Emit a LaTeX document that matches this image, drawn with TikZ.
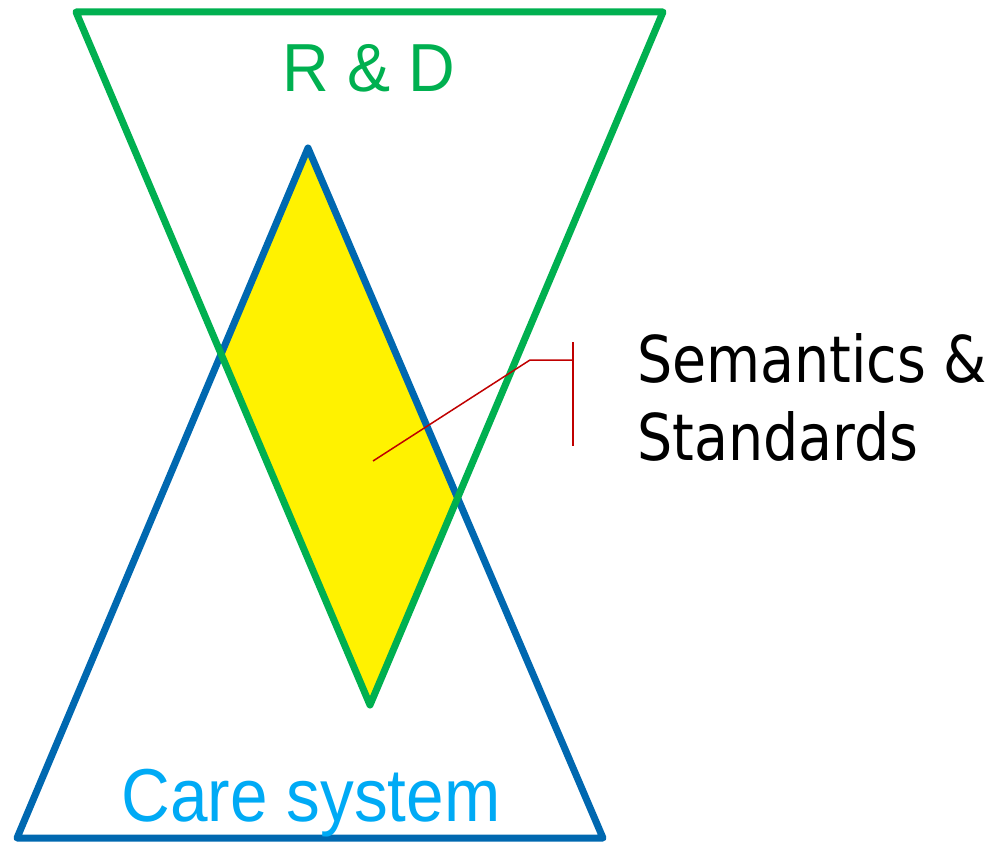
\documentclass[tikz,border=0pt]{standalone}
\usepackage{fontspec}
\newfontfamily\semfont[FakeStretch=0.86]{DejaVu Sans}
\newfontfamily\rdfont[FakeStretch=0.95]{Liberation Sans}
\newfontfamily\carefont[FakeStretch=0.9]{Liberation Sans}
\definecolor{rdgreen}{HTML}{00B050}
\definecolor{careblue}{HTML}{0068B0}
\definecolor{caretext}{HTML}{00AAF5}
\definecolor{calloutred}{HTML}{C00000}
\begin{document}
\begin{tikzpicture}[x=1pt,y=-1pt,
  tri/.style={line width=7pt,line join=round},
  callout/.style={draw=calloutred,line width=1.5pt},
  lbl/.style={inner sep=0pt,anchor=base}]
\useasboundingbox (0,0) rectangle (993,845);
% green inverted triangle
\coordinate (g1) at (76,12);
\coordinate (g2) at (663,12);
\coordinate (g3) at (370,705);
% blue triangle
\coordinate (b1) at (308,148);
\coordinate (b2) at (17,838);
\coordinate (b3) at (603,838);
% yellow overlap
\begin{scope}
  \clip (g1) -- (g2) -- (g3) -- cycle;
  \fill[yellow] (b1) -- (b2) -- (b3) -- cycle;
\end{scope}
\draw[tri,careblue] (b1) -- (b2) -- (b3) -- cycle;
\draw[tri,rdgreen] (g1) -- (g2) -- (g3) -- cycle;
% callout
\coordinate (c0) at (373,461);
\coordinate (c1) at (530,360);
\coordinate (c2) at (573,360);
\coordinate (ct) at (573,342);
\coordinate (cb) at (573,446);
\draw[callout] (c0) -- (c1) -- (c2);
\draw[callout] (ct) -- (cb);
% labels
\node[lbl,text=rdgreen,font=\rdfont\fontsize{68}{80}\selectfont] (rd) at (369,92) {R \& D};
\node[lbl,text=caretext,font=\carefont\fontsize{75}{88}\selectfont] (care) at (311,821) {Care system};
\node[lbl,anchor=base west,font=\semfont\fontsize{64.5}{78}\selectfont] (sem1) at (637,382) {Semantics \&};
\node[lbl,anchor=base west,font=\semfont\fontsize{64.5}{78}\selectfont] (sem2) at (637,460) {Standards};
\end{tikzpicture}
\end{document}
